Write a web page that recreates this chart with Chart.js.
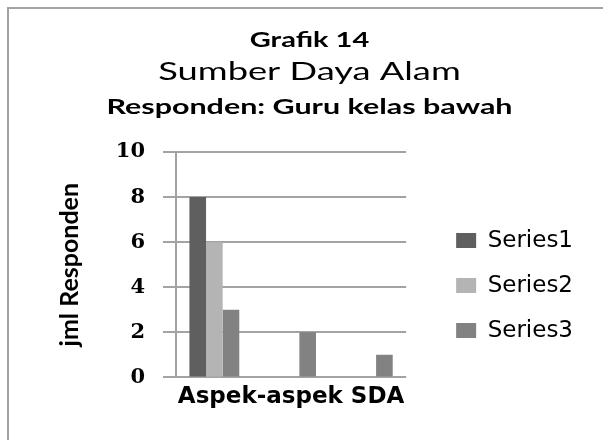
<!DOCTYPE html>
<html>
<head>
<meta charset="utf-8">
<script src="https://cdn.jsdelivr.net/npm/chart.js@4"></script>
<style>
  html, body { margin: 0; padding: 0; background: #fff; }
  #wrap { width: 603px; height: 440px; }
</style>
</head>
<body>
<div id="wrap"><canvas id="grafik"></canvas></div>
<script>
const categories = ['', '', '']
const series1 = [8, 0, 0]
const series2 = [6, 0, 0]
const series3 = [3, 2, 1]
const yTicks = [0, 2, 4, 6, 8, 10]
const titleLines = ['Grafik 14', 'Sumber Daya Alam', 'Responden: Guru kelas bawah']

// frame + three title lines (Excel style, slightly stretched text)
const frameAndTitles = {
  id: 'frameAndTitles',
  beforeDraw(chart) {
    const ctx = chart.ctx
    ctx.save()
    ctx.fillStyle = '#fff'
    ctx.fillRect(0, 0, chart.width, chart.height)
    ctx.strokeStyle = '#a3a3a3'
    ctx.lineWidth = 2
    ctx.strokeRect(8, 8, chart.width + 20, chart.height + 20)
    ctx.restore()
  },
  afterDraw(chart) {
    const ctx = chart.ctx
    const cx = chart.width / 2 + 8
    const styles = [
      { font: 'bold 20px Lato', y: 47 },
      { font: '25px Lato', y: 80 },
      { font: 'bold 21px Lato', y: 114 }
    ]
    ctx.save()
    ctx.fillStyle = '#000'
    ctx.textAlign = 'center'
    ctx.textBaseline = 'alphabetic'
    titleLines.forEach((t, i) => {
      const s = styles[i]
      ctx.save()
      ctx.font = s.font
      ctx.translate(cx, s.y)
      ctx.scale(1.45, 1)
      ctx.fillText(t, 0, 0)
      ctx.restore()
    })
    ctx.restore()
  }
}

const gridGrey = '#a3a3a3'

new Chart(document.getElementById('grafik'), {
  type: 'bar',
  data: {
    labels: categories,
    datasets: [
      { label: 'Series1', data: series1, backgroundColor: '#5f5f5f' },
      { label: 'Series2', data: series2, backgroundColor: '#b4b4b4' },
      { label: 'Series3', data: series3, backgroundColor: '#828282' }
    ]
  },
  options: {
    responsive: true,
    maintainAspectRatio: false,
    animation: false,
    categoryPercentage: 0.65,
    barPercentage: 1,
    layout: { padding: { top: 152, left: 50, right: 20, bottom: 29 } },
    plugins: {
      tooltip: { enabled: false },
      title: { display: false },
      legend: {
        position: 'right',
        maxWidth: 230,
        title: { display: true, text: ' ', font: { size: 6 }, padding: { top: 0, bottom: 1 } },
        labels: {
          boxWidth: 20,
          boxHeight: 15,
          padding: 22,
          color: '#000',
          font: { family: 'DejaVu Sans', size: 23 }
        }
      }
    },
    scales: {
      x: {
        grid: { display: false, drawTicks: false },
        border: { display: false },
        ticks: { display: false },
        title: {
          display: true,
          text: 'Aspek-aspek SDA',
          color: '#000',
          font: { family: 'DejaVu Sans', size: 23, weight: 'bold' },
          padding: { top: 6, bottom: 0 }
        }
      },
      y: {
        min: 0,
        max: 10,
        afterBuildTicks: scale => { scale.ticks = yTicks.map(v => ({ value: v })) },
        afterFit: scale => { scale.width = 126 },
        grid: { color: gridGrey, lineWidth: 2, tickLength: 13 },
        border: { color: gridGrey, width: 2 },
        ticks: {
          padding: 18,
          color: '#000',
          font: { family: 'DejaVu Serif', size: 21, weight: 'bold' }
        },
        title: {
          display: true,
          text: 'jml Responden',
          color: '#000',
          font: { family: 'Lato', size: 25, weight: 'bold' },
          padding: { top: 5, bottom: 0 }
        }
      },
      gap: {
        type: 'linear',
        position: 'right',
        display: true,
        grid: { display: false, drawTicks: false },
        border: { display: false },
        ticks: { display: false },
        afterFit: scale => { scale.width = 28 }
      }
    }
  },
  plugins: [frameAndTitles]
})
</script>
</body>
</html>
